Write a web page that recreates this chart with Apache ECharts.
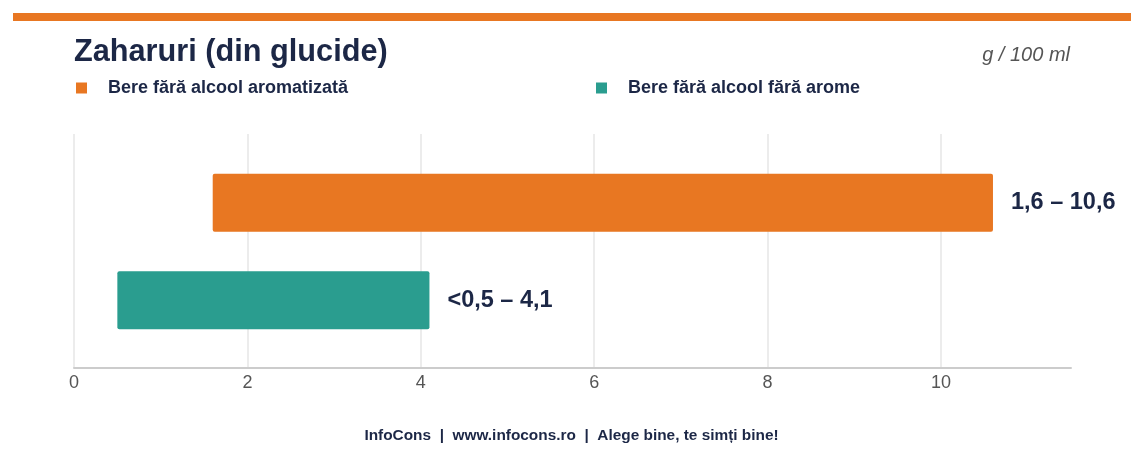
<!DOCTYPE html>
<html>
<head>
<meta charset="utf-8">
<script src="https://cdn.jsdelivr.net/npm/echarts@6/dist/echarts.min.js"></script>
<style>
  html, body { margin: 0; padding: 0; background: #fff; }
  #chart { width: 1143px; height: 457px; }
</style>
</head>
<body>
<div id="chart"></div>
<script>
// Zaharuri (din glucide) - intervale g / 100 ml
const categories = ['Bere fără alcool aromatizată', 'Bere fără alcool fără arome'];
const rangeLow = [1.6, 0.5];
const rangeHigh = [10.6, 4.1];
const rangeLabels = ['1,6 – 10,6', '<0,5 – 4,1'];
const xTicks = [0, 2, 4, 6, 8, 10];

function renderChart() {
  const dom = document.getElementById('chart');
  const chart = echarts.init(dom);
  const navy = '#1c2746';
  const colors = ['#e87722', '#2a9d8f'];
  const font = '"Liberation Sans", Arial, sans-serif';

  // one series per category so the legend gets one entry each
  const spanSeries = categories.map(function (name, i) {
    return {
      name: name,
      type: 'bar',
      stack: 'range',
      xAxisIndex: 1,
      yAxisIndex: 1,
      barWidth: 58,
      itemStyle: { color: colors[i], borderRadius: 2 },
      label: {
        show: true,
        position: 'right',
        distance: 18,
        fontFamily: font,
        fontSize: 23.5,
        fontWeight: 'bold',
        color: navy,
        formatter: function (p) { return rangeLabels[p.dataIndex]; }
      },
      data: categories.map(function (c, j) {
        return j === i ? +(rangeHigh[j] - rangeLow[j]).toFixed(2) : '-';
      })
    };
  });

  const option = {
    animation: false,
    textStyle: { fontFamily: font },
    graphic: [
      { type: 'rect', left: 13, top: 13, shape: { width: 1118, height: 8 }, style: { fill: '#e87722' } },
      { type: 'text', left: 74, top: 37, style: { text: 'Zaharuri (din glucide)', font: 'bold 30.7px "Liberation Sans", Arial, sans-serif', fill: navy } },
      { type: 'text', right: 73, top: 45, style: { text: 'g / 100 ml', font: 'italic 20px "Liberation Sans", Arial, sans-serif', fill: '#555' } },
      { type: 'text', left: 'center', top: 428, style: { text: 'InfoCons  |  www.infocons.ro  |  Alege bine, te simți bine!', font: 'bold 15.4px "Liberation Sans", Arial, sans-serif', fill: navy } }
    ],
    legend: [
      {
        data: [categories[0]],
        left: 71, top: 74,
        icon: 'rect', itemWidth: 11, itemHeight: 11,
        textStyle: { fontSize: 18, fontWeight: 'bold', color: navy, padding: [0, 0, 0, 16] },
        selectedMode: false
      },
      {
        data: [categories[1]],
        left: 591, top: 74,
        icon: 'rect', itemWidth: 11, itemHeight: 11,
        textStyle: { fontSize: 18, fontWeight: 'bold', color: navy, padding: [0, 0, 0, 16] },
        selectedMode: false
      }
    ],
    grid: [
      { left: 74, right: 72, top: 134, bottom: 89 },
      { left: 74, right: 72, top: 154, bottom: 108 }
    ],
    xAxis: [
      {
        type: 'value', gridIndex: 0, min: 0, max: 11.5, interval: 2,
        axisLine: { show: true, lineStyle: { color: '#cccccc', width: 2 } },
        axisTick: { show: false },
        axisLabel: {
          color: '#555', fontSize: 18, margin: 6,
          formatter: function (v) { return xTicks.indexOf(v) >= 0 ? String(v) : ''; }
        },
        splitLine: { show: true, showMaxLine: false, lineStyle: { color: '#e6e6e6', width: 1.5 } }
      },
      {
        type: 'value', gridIndex: 1, min: 0, max: 11.5,
        show: false, splitLine: { show: false }
      }
    ],
    yAxis: [
      {
        type: 'category', gridIndex: 0, data: categories,
        axisLine: { show: false }, axisTick: { show: false }, axisLabel: { show: false },
        splitLine: { show: false }
      },
      {
        type: 'category', gridIndex: 1, data: categories, inverse: true,
        show: false
      }
    ],
    series: [
      {
        name: 'base',
        type: 'bar',
        stack: 'range',
        xAxisIndex: 1,
        yAxisIndex: 1,
        barWidth: 58,
        itemStyle: { color: 'transparent' },
        silent: true,
        data: rangeLow
      }
    ].concat(spanSeries)
  };
  chart.setOption(option, true);
}
renderChart();
</script>
</body>
</html>
